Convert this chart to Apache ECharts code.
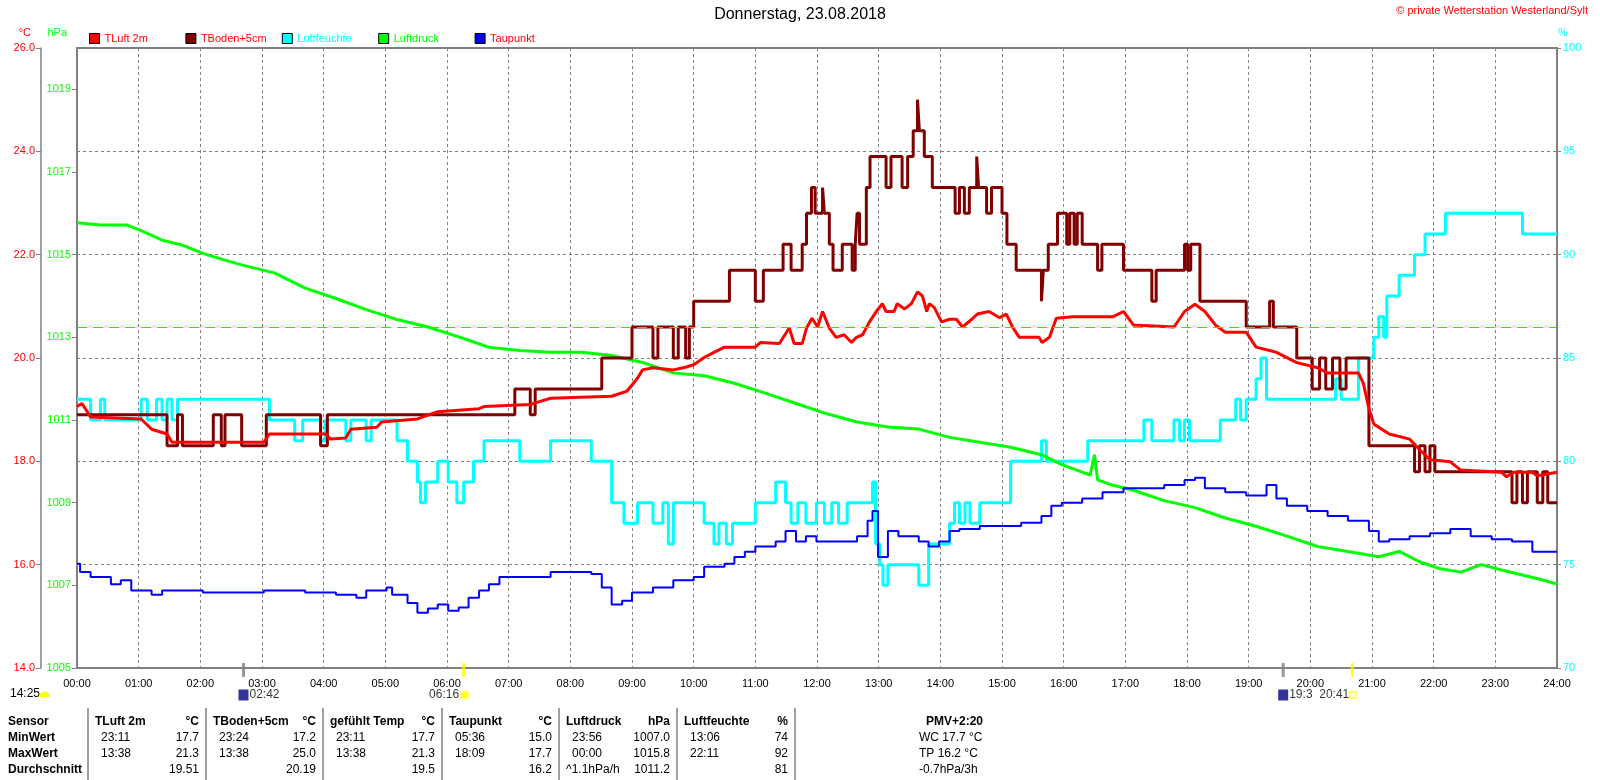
<!DOCTYPE html>
<html>
<head>
<meta charset="utf-8">
<title>Donnerstag, 23.08.2018</title>
<script src="https://cdn.jsdelivr.net/npm/echarts@6/dist/echarts.min.js"></script>
<style>
  html, body { margin: 0; padding: 0; background: #fff; }
  #chart { width: 1600px; height: 780px; }
</style>
</head>
<body>
<div id="chart"></div>
<script>
const tLuft = [
  [0, 19.06], [0.08, 19.12], [0.22, 18.86], [1.04, 18.82], [1.21, 18.62], [1.46, 18.53], [1.54, 18.37],
  [3.03, 18.37], [3.12, 18.53], [4.03, 18.53], [4.11, 18.43], [4.36, 18.45], [4.44, 18.62], [4.86, 18.66],
  [4.94, 18.76], [5.52, 18.82], [5.61, 18.86], [5.85, 18.96], [6.52, 19.02], [6.6, 19.06], [7.35, 19.1],
  [7.51, 19.16], [7.68, 19.22], [8.67, 19.26], [8.92, 19.36], [9.09, 19.61], [9.17, 19.77], [9.34, 19.81],
  [9.67, 19.77], [9.83, 19.81], [10.0, 19.87], [10.17, 20.01], [10.33, 20.11], [10.5, 20.21], [11.0, 20.21],
  [11.08, 20.3], [11.39, 20.28], [11.55, 20.58], [11.63, 20.28], [11.76, 20.28], [11.83, 20.58], [11.92, 20.77],
  [12.01, 20.6], [12.09, 20.9], [12.2, 20.58], [12.31, 20.4], [12.44, 20.45], [12.56, 20.3], [12.64, 20.4],
  [12.74, 20.45], [12.85, 20.7], [12.98, 20.93], [13.06, 21.05], [13.12, 20.9], [13.25, 20.9], [13.3, 21.05],
  [13.42, 20.95], [13.53, 21.05], [13.63, 21.28], [13.71, 21.2], [13.78, 20.9], [13.82, 21.05], [13.9, 20.98],
  [14.02, 20.7], [14.15, 20.75], [14.26, 20.75], [14.36, 20.6], [14.51, 20.75], [14.6, 20.85], [14.79, 20.9],
  [14.96, 20.78], [15.07, 20.85], [15.17, 20.6], [15.28, 20.4], [15.6, 20.4], [15.65, 20.3], [15.77, 20.4],
  [15.88, 20.77], [16.14, 20.8], [16.8, 20.8], [16.97, 20.9], [17.13, 20.64], [17.79, 20.6], [17.96, 20.9],
  [18.13, 21.04], [18.29, 20.9], [18.46, 20.64], [18.62, 20.5], [18.96, 20.5], [19.12, 20.21], [19.45, 20.11],
  [19.78, 19.91], [20.12, 19.81], [20.28, 19.71], [20.78, 19.71], [20.86, 19.51], [20.95, 19.02], [21.03, 18.72],
  [21.28, 18.53], [21.61, 18.43], [21.77, 18.23], [21.94, 18.03], [22.27, 17.99], [22.44, 17.83], [23.1, 17.79],
  [23.18, 17.7], [23.3, 17.79], [23.6, 17.79], [23.68, 17.72], [24, 17.79]
];

const tBoden = [
  [0, 18.9], [1.46, 18.3], [1.63, 18.9], [1.71, 18.3], [2.21, 18.9], [2.34, 18.3], [2.4, 18.9], [2.67, 18.3],
  [3.07, 18.9], [3.95, 18.3], [4.06, 18.9], [7.1, 19.4], [7.35, 18.9], [7.43, 19.4], [8.51, 20.0], [9.0, 20.6],
  [9.34, 20.0], [9.42, 20.6], [9.67, 20.0], [9.75, 20.6], [9.87, 20.0], [9.93, 20.6], [10.0, 21.1], [10.58, 21.7],
  [11.0, 21.1], [11.13, 21.7], [11.45, 22.2], [11.58, 21.7], [11.76, 22.2], [11.83, 22.8], [11.91, 23.3],
  [11.97, 22.8], [12.09, 23.3], [12.12, 22.8], [12.2, 22.2], [12.26, 21.7], [12.41, 22.2], [12.57, 21.7],
  [12.62, 22.2], [12.65, 22.8], [12.69, 22.2], [12.8, 23.3], [12.86, 23.9], [13.12, 23.3], [13.2, 23.9],
  [13.38, 23.3], [13.47, 23.9], [13.56, 24.4], [13.63, 25.0], [13.66, 24.4], [13.74, 23.9], [13.87, 23.3],
  [14.24, 22.8], [14.31, 23.3], [14.39, 22.8], [14.47, 23.3], [14.59, 23.9], [14.62, 23.3], [14.75, 22.8],
  [14.83, 23.3], [15.0, 22.8], [15.08, 22.2], [15.23, 21.7], [15.64, 21.1], [15.67, 21.7], [15.75, 22.2],
  [15.9, 22.8], [16.05, 22.2], [16.1, 22.8], [16.17, 22.2], [16.22, 22.8], [16.3, 22.2], [16.55, 21.7],
  [16.62, 22.2], [16.97, 21.7], [17.43, 21.1], [17.5, 21.7], [17.96, 22.2], [18.01, 21.7], [18.06, 22.2],
  [18.21, 21.1], [18.96, 20.6], [19.34, 21.1], [19.4, 20.6], [19.78, 20.0], [20.03, 19.4], [20.15, 20.0],
  [20.25, 19.4], [20.36, 20.0], [20.48, 19.4], [20.58, 20.0], [20.95, 18.3], [21.69, 17.8], [21.77, 18.3],
  [21.86, 17.8], [21.94, 18.3], [22.02, 17.8], [23.27, 17.2], [23.35, 17.8], [23.44, 17.2], [23.52, 17.8],
  [23.68, 17.2], [23.77, 17.8], [23.85, 17.2], [24, 17.2]
];

const luftfeuchte = [
  [0, 83], [0.22, 82], [0.38, 83], [0.45, 82], [1.04, 83], [1.14, 82], [1.29, 83], [1.38, 82], [1.46, 83],
  [1.54, 82], [1.63, 83], [3.12, 82], [3.53, 81], [3.66, 82], [3.95, 81], [4.03, 82], [4.36, 81], [4.44, 82],
  [4.69, 81], [4.77, 82], [5.19, 81], [5.36, 80], [5.52, 79], [5.57, 78], [5.65, 79], [5.85, 80], [6.02, 79],
  [6.16, 78], [6.27, 79], [6.43, 80], [6.6, 81], [7.18, 80], [7.68, 81], [8.34, 80], [8.67, 78], [8.87, 77],
  [9.09, 78], [9.34, 77], [9.5, 78], [9.59, 76], [9.67, 78], [10.17, 77], [10.33, 76], [10.41, 77], [10.53, 76],
  [10.63, 77], [11.0, 78], [11.33, 79], [11.49, 78], [11.58, 77], [11.69, 78], [11.82, 77], [11.99, 78],
  [12.12, 77], [12.24, 78], [12.35, 77], [12.49, 78], [12.9, 79], [12.95, 76], [13.02, 75], [13.07, 74],
  [13.15, 75], [13.65, 74], [13.81, 76], [14.15, 77], [14.23, 78], [14.31, 77], [14.4, 78], [14.48, 77],
  [14.64, 78], [15.14, 80], [15.64, 81], [15.72, 80], [16.39, 81], [17.3, 82], [17.43, 81], [17.79, 82],
  [17.88, 81], [17.96, 82], [18.04, 81], [18.54, 82], [18.79, 83], [18.87, 82], [18.96, 83], [19.12, 84],
  [19.2, 85], [19.29, 83], [20.41, 84], [20.5, 83], [20.78, 85], [21.03, 86], [21.11, 87], [21.19, 86],
  [21.24, 88], [21.44, 89], [21.69, 90], [21.86, 91], [22.19, 92], [23.44, 91], [24, 91]
];

const luftdruck = [
  [0, 1015.77], [0.38, 1015.72], [0.8, 1015.72], [1.04, 1015.58], [1.38, 1015.35], [1.71, 1015.23],
  [2.04, 1015.03], [2.37, 1014.88], [2.7, 1014.74], [3.2, 1014.56], [3.7, 1014.19], [4.2, 1013.94],
  [4.69, 1013.67], [5.19, 1013.43], [5.69, 1013.25], [6.19, 1013.01], [6.68, 1012.76], [7.18, 1012.68],
  [7.68, 1012.64], [8.18, 1012.64], [8.67, 1012.56], [9.17, 1012.39], [9.67, 1012.14], [10.17, 1012.07],
  [10.66, 1011.89], [11.16, 1011.65], [11.66, 1011.4], [12.16, 1011.15], [12.65, 1010.95], [13.15, 1010.83],
  [13.65, 1010.78], [14.15, 1010.58], [14.64, 1010.46], [15.14, 1010.34], [15.64, 1010.16], [15.97, 1009.92],
  [16.3, 1009.74], [16.43, 1009.67], [16.5, 1010.16], [16.55, 1009.55], [16.8, 1009.42], [17.13, 1009.3],
  [17.63, 1009.05], [18.13, 1008.88], [18.62, 1008.63], [19.12, 1008.43], [19.62, 1008.19], [20.12, 1007.94],
  [20.61, 1007.82], [21.11, 1007.69], [21.44, 1007.82], [21.77, 1007.57], [22.11, 1007.4], [22.44, 1007.32],
  [22.77, 1007.5], [23.1, 1007.37], [23.44, 1007.25], [23.77, 1007.13], [24, 1007.03]
];

const taupunkt = [
  [0, 16.02], [0.05, 15.86], [0.22, 15.76], [0.38, 15.76], [0.55, 15.62], [0.71, 15.7], [0.88, 15.5],
  [1.21, 15.42], [1.38, 15.5], [2.04, 15.46], [3.03, 15.5], [3.7, 15.46], [4.2, 15.42], [4.53, 15.36],
  [4.69, 15.5], [5.02, 15.56], [5.11, 15.42], [5.36, 15.26], [5.52, 15.07], [5.69, 15.15], [5.85, 15.23],
  [6.02, 15.11], [6.19, 15.17], [6.35, 15.36], [6.52, 15.5], [6.68, 15.62], [6.85, 15.76], [7.18, 15.76],
  [7.68, 15.86], [8.34, 15.82], [8.51, 15.56], [8.67, 15.23], [8.84, 15.3], [9.0, 15.46], [9.34, 15.56],
  [9.67, 15.7], [10.0, 15.76], [10.17, 15.96], [10.5, 16.02], [10.66, 16.15], [10.83, 16.25], [11.0, 16.35],
  [11.33, 16.45], [11.49, 16.65], [11.66, 16.45], [11.82, 16.55], [11.99, 16.45], [12.32, 16.45],
  [12.65, 16.55], [12.82, 16.85], [12.9, 17.04], [12.99, 16.15], [13.15, 16.65], [13.32, 16.55],
  [13.65, 16.45], [13.81, 16.35], [13.98, 16.45], [14.15, 16.65], [14.31, 16.69], [14.64, 16.75],
  [14.98, 16.75], [15.31, 16.81], [15.64, 16.94], [15.8, 17.14], [15.97, 17.2], [16.3, 17.28], [16.63, 17.4],
  [16.97, 17.48], [17.3, 17.48], [17.63, 17.54], [17.96, 17.64], [18.13, 17.68], [18.29, 17.48], [18.62, 17.4],
  [18.96, 17.34], [19.29, 17.54], [19.45, 17.28], [19.62, 17.14], [19.95, 17.04], [20.28, 16.94], [20.61, 16.85],
  [20.95, 16.65], [21.11, 16.45], [21.28, 16.49], [21.61, 16.55], [21.94, 16.61], [22.27, 16.69], [22.6, 16.55],
  [22.94, 16.49], [23.27, 16.45], [23.6, 16.25], [24, 16.25]
];

const normalPressure = 1013.25;

const tempTicks = [14, 16, 18, 20, 22, 24, 26];
const pressureTicks = [1005, 1007, 1009, 1011, 1013, 1015, 1017, 1019];
const humidityTicks = [70, 75, 80, 85, 90, 95, 100];

// moon / sun events under the time axis
const sunMoonEvents = [
  { time: 2.7, text: '02:42', kind: 'moon' },
  { time: 6.27, text: '06:16', kind: 'sunrise' },
  { time: 19.56, text: '19:3', kind: 'moon' },
  { time: 20.68, text: '20:41', kind: 'sunset' }
];
const sunshineDuration = '14:25';

const legendNames = ['TLuft 2m', 'TBoden+5cm', 'Luftfeuchte', 'Luftdruck', 'Taupunkt'];
const legendTextColors = ['#ff0000', '#ff0000', '#00ffff', '#00ff00', '#ff0000'];
const axisUnits = ['°C', 'hPa', '%'];

const rowLabels = ['Sensor', 'MinWert', 'MaxWert', 'Durchschnitt'];
const tableColumns = [
  { name: 'TLuft 2m', unit: '°C', rows: [['23:11', '17.7'], ['13:38', '21.3'], ['', '19.51']] },
  { name: 'TBoden+5cm', unit: '°C', rows: [['23:24', '17.2'], ['13:38', '25.0'], ['', '20.19']] },
  { name: 'gefühlt Temp', unit: '°C', rows: [['23:11', '17.7'], ['13:38', '21.3'], ['', '19.5']] },
  { name: 'Taupunkt', unit: '°C', rows: [['05:36', '15.0'], ['18:09', '17.7'], ['', '16.2']] },
  { name: 'Luftdruck', unit: 'hPa', rows: [['23:56', '1007.0'], ['00:00', '1015.8'], ['^1.1hPa/h', '1011.2']] },
  { name: 'Luftfeuchte', unit: '%', rows: [['13:06', '74'], ['22:11', '92'], ['', '81']] }
];
const pmvLines = ['PMV+2:20', 'WC 17.7 °C', 'TP 16.2 °C', '-0.7hPa/3h'];

const FONT = '"Liberation Sans", Arial, sans-serif';
const GRID_COLOR = '#808080';

// ---- bottom table (graphic elements) ----
const colSeps = [88, 206, 323, 442, 559, 677, 795];
const rowY = [722, 738, 753.5, 769.5];

function txt(x, y, text, opts) {
  opts = opts || {};
  return {
    type: 'text',
    x: x,
    y: y,
    silent: true,
    style: {
      text: text,
      fill: opts.color || '#000',
      font: (opts.bold ? 'bold ' : '') + (opts.size || 12) + 'px ' + FONT,
      align: opts.align || 'left',
      verticalAlign: 'middle'
    }
  };
}

const extraGraphics = [];
rowLabels.forEach((label, i) => {
  extraGraphics.push(txt(8, rowY[i], label, { bold: true }));
});
tableColumns.forEach((col, c) => {
  const left = colSeps[c];
  const right = colSeps[c + 1];
  extraGraphics.push({
    type: 'line',
    silent: true,
    shape: { x1: left, y1: 708, x2: left, y2: 780 },
    style: { stroke: '#a0a0a0', lineWidth: 2 }
  });
  extraGraphics.push(txt(left + 7, rowY[0], col.name, { bold: true }));
  extraGraphics.push(txt(right - 7, rowY[0], col.unit, { bold: true, align: 'right' }));
  col.rows.forEach((row, r) => {
    if (row[0]) {
      const offs = row[0].startsWith('^') ? 7 : 13;
      extraGraphics.push(txt(left + offs, rowY[r + 1], row[0]));
    }
    extraGraphics.push(txt(right - 7, rowY[r + 1], row[1], { align: 'right' }));
  });
});
extraGraphics.push({
  type: 'line',
  silent: true,
  shape: { x1: colSeps[6], y1: 708, x2: colSeps[6], y2: 780 },
  style: { stroke: '#a0a0a0', lineWidth: 2 }
});
pmvLines.forEach((line, i) => {
  extraGraphics.push(txt(i === 0 ? 926 : 919, rowY[i], line, { bold: i === 0 }));
});

// sunshine duration at the left edge
extraGraphics.push(txt(10, 694, sunshineDuration));
extraGraphics.push({
  type: 'sector',
  silent: true,
  shape: { cx: 44.5, cy: 697, r: 5.5, r0: 0, startAngle: Math.PI, endAngle: Math.PI * 2 },
  style: { fill: '#ffff00' }
});

// unit captions above the value axes
extraGraphics.push(txt(31, 33, axisUnits[0], { color: '#ff0000', size: 11, align: 'right' }));
extraGraphics.push(txt(67, 33, axisUnits[1], { color: '#00ff00', size: 11, align: 'right' }));
extraGraphics.push(txt(1558, 33, axisUnits[2], { color: '#00ffff', size: 11 }));

// ---- event markers as a scatter on the time axis ----
const eventData = sunMoonEvents.map((ev) => {
  const isMoon = ev.kind === 'moon';
  let formatter;
  if (isMoon) {
    formatter = '{moon| }{t|' + ev.text + '}';
  } else if (ev.kind === 'sunrise') {
    formatter = '{t|' + ev.text + '}{sun| }';
  } else {
    formatter = '{t|' + ev.text + '}{set| }';
  }
  return {
    value: [ev.time, tempTicks[0]],
    itemStyle: { color: isMoon ? GRID_COLOR : '#ffff00' },
    label: {
      show: true,
      formatter: formatter,
      position: isMoon ? [-3.5, 32] : [ev.kind === 'sunrise' ? 7 : 4.5, 32],
      align: isMoon ? 'left' : 'right',
      verticalAlign: 'middle'
    }
  };
});

// one legend block per series so the entries sit on a fixed pitch
const legends = legendNames.map((name, i) => ({
  left: 89 + i * 96.4,
  top: 33,
  itemWidth: 10,
  itemHeight: 10,
  icon: 'rect',
  selectedMode: false,
  padding: 0,
  itemStyle: { borderColor: '#000', borderWidth: 1 },
  textStyle: { fontSize: 11, fontFamily: FONT, color: legendTextColors[i] },
  data: [name]
}));

const chart = echarts.init(document.getElementById('chart'));

chart.setOption({
  animation: false,
  backgroundColor: '#fff',
  textStyle: { fontFamily: FONT },
  title: [
    {
      text: 'Donnerstag, 23.08.2018',
      left: 'center',
      top: 2,
      textStyle: { fontSize: 16, fontWeight: 'normal', color: '#000', fontFamily: FONT }
    },
    {
      text: '© private Wetterstation Westerland/Sylt',
      right: 7,
      top: 0,
      textStyle: { fontSize: 11, fontWeight: 'normal', color: '#ff0000', fontFamily: FONT }
    }
  ],
  legend: legends,
  grid: {
    left: 77,
    right: 43,
    top: 48,
    bottom: 112,
    show: true,
    borderColor: GRID_COLOR,
    borderWidth: 2,
    containLabel: false,
    outerBoundsMode: 'none'
  },
  xAxis: {
    type: 'value',
    min: 0,
    max: 24,
    interval: 1,
    axisLine: { show: true, onZero: false, lineStyle: { color: GRID_COLOR, width: 2 } },
    axisTick: { show: false },
    axisLabel: {
      color: '#000',
      fontSize: 11,
      margin: 10,
      formatter: (v) => String(v).padStart(2, '0') + ':00'
    },
    splitLine: { show: true, lineStyle: { color: GRID_COLOR, type: [3, 3], width: 1 } }
  },
  yAxis: [
    {
      type: 'value',
      position: 'left',
      offset: 36,
      min: tempTicks[0],
      max: tempTicks[tempTicks.length - 1],
      interval: 2,
      axisLine: { show: true, onZero: false, lineStyle: { color: GRID_COLOR, width: 1.5 } },
      axisTick: { show: true, length: 5, lineStyle: { color: GRID_COLOR } },
      axisLabel: { color: '#ff0000', fontSize: 11, margin: 6, formatter: (v) => v.toFixed(1) },
      splitLine: { show: true, lineStyle: { color: GRID_COLOR, type: [3, 3], width: 1 } }
    },
    {
      type: 'value',
      position: 'left',
      offset: 0,
      min: 1005,
      max: 1020,
      axisLine: { show: false, onZero: false },
      axisTick: { show: true, length: 5, customValues: pressureTicks, lineStyle: { color: GRID_COLOR } },
      axisLabel: {
        color: '#00ff00',
        fontSize: 11,
        margin: 6,
        customValues: pressureTicks,
        formatter: (v) => String(Math.round(v))
      },
      splitLine: { show: false }
    },
    {
      type: 'value',
      position: 'right',
      min: humidityTicks[0],
      max: humidityTicks[humidityTicks.length - 1],
      interval: 5,
      axisLine: { show: false, onZero: false },
      axisTick: { show: true, length: 4, lineStyle: { color: GRID_COLOR } },
      axisLabel: { color: '#00ffff', fontSize: 11, margin: 6 },
      splitLine: { show: false }
    }
  ],
  series: [
    {
      name: 'Luftfeuchte',
      type: 'line',
      yAxisIndex: 2,
      step: 'end',
      showSymbol: false,
      symbol: 'none',
      color: '#00ffff',
      lineStyle: { color: '#00ffff', width: 3 },
      data: luftfeuchte
    },
    {
      name: 'Luftdruck',
      type: 'line',
      yAxisIndex: 1,
      showSymbol: false,
      symbol: 'none',
      color: '#00ff00',
      lineStyle: { color: '#00ff00', width: 3 },
      data: luftdruck,
      markLine: {
        silent: true,
        symbol: 'none',
        label: { show: false },
        lineStyle: { color: '#00ff00', type: [10, 6], width: 1 },
        data: [{ yAxis: normalPressure }]
      }
    },
    {
      name: 'Taupunkt',
      type: 'line',
      yAxisIndex: 0,
      step: 'end',
      showSymbol: false,
      symbol: 'none',
      color: '#0000ff',
      lineStyle: { color: '#0000ff', width: 2 },
      data: taupunkt
    },
    {
      name: 'TBoden+5cm',
      type: 'line',
      yAxisIndex: 0,
      step: 'end',
      showSymbol: false,
      symbol: 'none',
      color: '#800000',
      lineStyle: { color: '#800000', width: 3 },
      data: tBoden
    },
    {
      name: 'TLuft 2m',
      type: 'line',
      yAxisIndex: 0,
      showSymbol: false,
      symbol: 'none',
      color: '#ff0000',
      lineStyle: { color: '#ff0000', width: 3 },
      data: tLuft
    },
    {
      name: 'events',
      type: 'scatter',
      yAxisIndex: 0,
      clip: false,
      z: 10,
      symbol: 'rect',
      symbolSize: [3, 14],
      symbolOffset: [0, 2],
      silent: true,
      label: {
        fontSize: 12,
        color: '#000',
        rich: {
          t: { fontSize: 12, color: '#000', fontFamily: FONT, padding: [0, 1, 0, 1] },
          moon: { width: 10, height: 11, backgroundColor: '#000080' },
          sun: { width: 9, height: 9, borderRadius: 5, backgroundColor: '#ffff00' },
          set: { width: 5, height: 5, borderColor: '#ffff00', borderWidth: 1.5, backgroundColor: '#fff' }
        }
      },
      data: eventData
    }
  ],
  graphic: extraGraphics
});
</script>
</body>
</html>
